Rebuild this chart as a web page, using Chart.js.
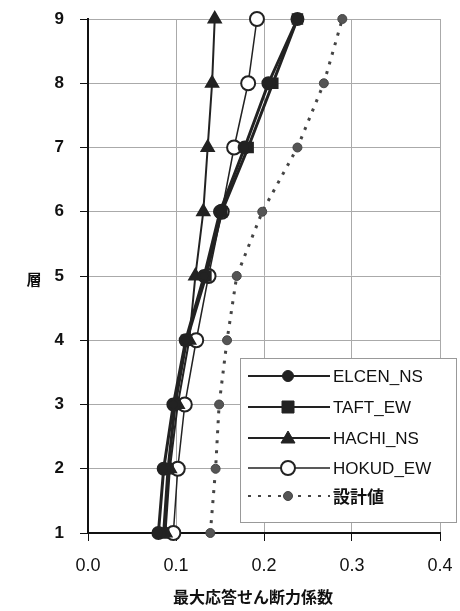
<!DOCTYPE html>
<html>
<head>
<meta charset="utf-8">
<script src="https://cdn.jsdelivr.net/npm/chart.js@4"></script>
<style>
  html, body { margin: 0; padding: 0; background: #fff; }
  #wrap { width: 460px; height: 611px; position: relative; }
</style>
</head>
<body>
<div id="wrap"><canvas id="c"></canvas></div>
<script>
// 階 (floor) と各波の最大応答せん断力係数
const floors = [1, 2, 3, 4, 5, 6, 7, 8, 9];
const elcenNS = [0.080, 0.086, 0.097, 0.111, 0.132, 0.150, 0.178, 0.205, 0.238];
const taftEW  = [0.086, 0.091, 0.099, 0.112, 0.134, 0.152, 0.182, 0.210, 0.238];
const hachiNS = [0.088, 0.093, 0.102, 0.115, 0.122, 0.131, 0.136, 0.141, 0.144];
const hokudEW = [0.097, 0.102, 0.110, 0.123, 0.137, 0.152, 0.166, 0.182, 0.192];
const design  = [0.139, 0.145, 0.149, 0.158, 0.169, 0.198, 0.238, 0.268, 0.289];
const xTicks = [0.0, 0.1, 0.2, 0.3, 0.4];

const seriesNames = ["ELCEN_NS", "TAFT_EW", "HACHI_NS", "HOKUD_EW", "設計値"];

// x=係数, y=階 の点列にする
function pts(vals) {
    return vals.map((v, i) => ({ x: v, y: floors[i] }));
}

const datasets = [
    { label: seriesNames[0], data: pts(elcenNS), borderColor: "#222", backgroundColor: "#222",
      borderWidth: 3, pointStyle: "circle", pointRadius: 5.5 },
    { label: seriesNames[1], data: pts(taftEW), borderColor: "#222", backgroundColor: "#222",
      borderWidth: 3, pointStyle: "rect", pointRadius: 6 },
    { label: seriesNames[2], data: pts(hachiNS), borderColor: "#222", backgroundColor: "#222",
      borderWidth: 2, pointStyle: "triangle", pointRadius: 7 },
    { label: seriesNames[3], data: pts(hokudEW), borderColor: "#222", backgroundColor: "#fff",
      borderWidth: 1.5, pointStyle: "circle", pointRadius: 7, pointBorderWidth: 2 },
    { label: seriesNames[4], data: pts(design), borderColor: "#444", backgroundColor: "#555",
      borderWidth: 3, borderDash: [3, 7], pointStyle: "circle", pointRadius: 4.5, pointBorderWidth: 1 }
];
datasets.forEach(d => { d.showLine = true; d.clip = false; d.tension = 0; });

// 凡例・軸タイトルは手描き
const extras = {
    id: "extras",
    afterDraw(chart) {
        const ctx = chart.ctx;
        ctx.save();

        // 縦軸タイトル
        ctx.fillStyle = "#111";
        ctx.font = "bold 15px 'Noto Sans CJK JP'";
        ctx.textAlign = "center";
        ctx.textBaseline = "middle";
        ctx.fillText("層", 34, 279);

        // 横軸タイトル
        ctx.font = "bold 16px 'Noto Sans CJK JP'";
        ctx.fillText("最大応答せん断力係数", 253, 597);

        // 凡例
        const bx = 240, by = 358, bw = 216, bh = 164;
        ctx.fillStyle = "#fff";
        ctx.fillRect(bx, by, bw, bh);
        ctx.strokeStyle = "#999";
        ctx.lineWidth = 1;
        ctx.strokeRect(bx + 0.5, by + 0.5, bw, bh);

        const rowY = [376, 407, 438, 468, 496];
        chart.data.datasets.forEach((ds, i) => {
            const y = rowY[i];
            ctx.strokeStyle = ds.borderColor;
            ctx.lineWidth = Math.min(ds.borderWidth, 2);
            ctx.setLineDash(ds.borderDash || []);
            ctx.beginPath();
            ctx.moveTo(248, y);
            ctx.lineTo(330, y);
            ctx.stroke();
            ctx.setLineDash([]);

            ctx.fillStyle = ds.backgroundColor;
            ctx.strokeStyle = ds.borderColor;
            ctx.lineWidth = ds.pointBorderWidth || 1;
            ctx.beginPath();
            if (ds.pointStyle === "circle") {
                ctx.arc(288, y, ds.pointRadius, 0, Math.PI * 2);
            } else if (ds.pointStyle === "rect") {
                ctx.rect(288 - 6, y - 6, 12, 12);
            } else {
                ctx.moveTo(288, y - 7);
                ctx.lineTo(295, y + 5);
                ctx.lineTo(281, y + 5);
                ctx.closePath();
            }
            ctx.fill();
            ctx.stroke();

            ctx.fillStyle = "#111";
            ctx.font = i === 4 ? "bold 17px 'Noto Sans CJK JP'" : "17px 'Liberation Sans'";
            ctx.textAlign = "left";
            ctx.fillText(ds.label, 333, y + 1);
        });
        ctx.restore();
    }
};

new Chart(document.getElementById("c"), {
    type: "scatter",
    data: { datasets: datasets },
    options: {
        responsive: true,
        maintainAspectRatio: false,
        animation: false,
        layout: { autoPadding: false, padding: { top: 19, right: 20, left: 0, bottom: 0 } },
        plugins: { legend: { display: false }, tooltip: { enabled: false } },
        scales: {
            x: {
                type: "linear",
                min: 0, max: 0.4,
                afterBuildTicks: s => { s.ticks = xTicks.map(v => ({ value: v })); },
                afterFit: s => { s.height = 78; s.paddingLeft = 0; s.paddingRight = 0; },
                ticks: {
                    color: "#111",
                    padding: 14,
                    font: { family: "'Liberation Sans'", size: 18 },
                    callback: v => Number(v).toFixed(1)
                },
                grid: { color: "#aaa", lineWidth: 1, tickColor: "#111", tickLength: 8 },
                border: { color: "#111", width: 2 }
            },
            y: {
                type: "linear",
                min: 1, max: 9,
                afterBuildTicks: s => { s.ticks = floors.map(v => ({ value: v })); },
                afterFit: s => { s.width = 88; s.paddingTop = 0; s.paddingBottom = 0; },
                ticks: {
                    color: "#111",
                    padding: 16,
                    font: { family: "'Liberation Sans'", size: 17, weight: "bold" }
                },
                grid: { color: "#aaa", lineWidth: 1, tickColor: "#111", tickLength: 8 },
                border: { color: "#111", width: 2 }
            }
        }
    },
    plugins: [extras]
});
</script>
</body>
</html>
